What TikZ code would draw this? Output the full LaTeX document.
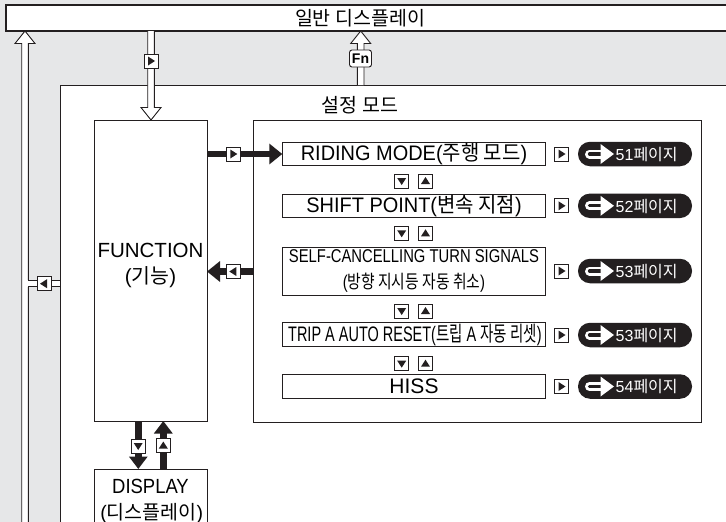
\documentclass[tikz,border=0pt]{standalone}
\usepackage{fontspec}
\setmainfont{Liberation Sans}
\newfontfamily\kr{Noto Sans CJK KR}
\usetikzlibrary{arrows.meta,calc}
\definecolor{bgc}{RGB}{230,231,232}
\definecolor{lc}{RGB}{35,31,32}
\tikzset{
 box/.style={draw=lc, fill=white, line width=0.9pt, inner sep=0pt, outer sep=0pt},
 item/.style={box, minimum width=263.4pt, minimum height=23.5pt, font=\fontsize{21}{22}\selectfont},
 btn/.style={draw=lc, fill=white, line width=0.8pt, minimum size=14pt, inner sep=0pt, outer sep=0pt},
 btnR/.style={btn, path picture={\fill[lc] ($(path picture bounding box.center)+(-3pt,4.5pt)$) -- ++(7pt,-4.5pt) -- ++(-7pt,-4.5pt) -- cycle;}},
 btnL/.style={btn, path picture={\fill[lc] ($(path picture bounding box.center)+(3pt,4.5pt)$) -- ++(-7pt,-4.5pt) -- ++(7pt,-4.5pt) -- cycle;}},
 btnD/.style={btn, path picture={\fill[lc] ($(path picture bounding box.center)+(-4.5pt,3pt)$) -- ++(9pt,0pt) -- ++(-4.5pt,-7pt) -- cycle;}},
 btnU/.style={btn, path picture={\fill[lc] ($(path picture bounding box.center)+(-4.5pt,-3pt)$) -- ++(9pt,0pt) -- ++(-4.5pt,7pt) -- cycle;}},
 pill/.style={fill=lc, rounded corners=12pt, minimum width=114pt, minimum height=24.5pt, inner sep=0pt, outer sep=0pt},
 pilltxt/.style={text=white, inner sep=0pt, font=\fontsize{16}{16}\selectfont},
 thk/.style={draw=lc, line width=6.7pt, -{Triangle[length=13pt, width=20pt]}},
 thks/.style={draw=lc, line width=6.7pt, -{Triangle[length=12.5pt, width=18pt]}},
 hol/.style={draw=lc, fill=white, line width=0.9pt, line join=miter},
}
\newcommand\harrow[2]{%
 \coordinate (hB) at ($(#2)!12.5pt!(#1)$);
 \filldraw[hol] ($(#1)!3.3pt!90:(#2)$) -- ($(hB)!3.3pt!90:(#2)$) -- ($(hB)!10pt!90:(#2)$) -- (#2) -- ($(hB)!10pt!-90:(#2)$) -- ($(hB)!3.3pt!-90:(#2)$) -- ($(#1)!3.3pt!-90:(#2)$);
}
\newcommand\pagepill[3]{%
 \node[btnR] (#1b) at (561.5,#2) {};
 \node[pill] (#1p) at (635,#2) {};
 \draw[white, line width=9pt, line cap=round] ($(#1p.west)+(11.5,0)$) -- ($(#1p.west)+(25,0)$);
 \draw[lc, line width=3.2pt, line cap=round] ($(#1p.west)+(11.5,0)$) -- ($(#1p.west)+(25,0)$);
 \fill[white] ($(#1p.west)+(22.5,-10)$) -- ($(#1p.west)+(36,0)$) -- ($(#1p.west)+(22.5,10)$) -- cycle;
 \node[pilltxt, anchor=west] (#1t) at ($(#1p.west)+(37.5,0.5)$) {#3{\kr 페이지}};
}
\begin{document}
\begin{tikzpicture}[x=1pt,y=-1pt]
\useasboundingbox (0,0) rectangle (726,522);
\clip (0,0) rectangle (726,522);
\fill[bgc] (0,0) rectangle (726,522);
% general display bar
\node[box, line width=1.1pt, anchor=north west, minimum width=740pt, minimum height=26pt] (top) at (6,5) {};
\node[font=\kr\fontsize{19.5}{20}\selectfont, inner sep=0pt] (toptxt) at (360,18) {일반 디스플레이};
% setting mode
\node[box, anchor=north west, minimum width=700pt, minimum height=470pt] (setbox) at (60,85) {};
\node[font=\kr\fontsize{19.5}{20}\selectfont, inner sep=0pt] (settxt) at (360,105) {설정 모드};
\node[box, anchor=north west, minimum width=448pt, minimum height=302pt] (inner) at (253,120) {};
\node[box, anchor=north west, minimum width=113pt, minimum height=301pt] (func) at (94,120) {};
\node[align=center, inner sep=0pt, font=\fontsize{20.5}{26}\selectfont] (functxt) at (150.5,265) {FUNCTION\\({\kr 기능})};
\node[box, anchor=north west, minimum width=113pt, minimum height=80pt] (disp) at (94,469) {};
\node[inner sep=0pt, xscale=0.9, font=\fontsize{20.5}{22}\selectfont] (disptxt) at (150.5,486) {DISPLAY};
\node[inner sep=0pt, font=\fontsize{19.5}{22}\selectfont] (disptxt2) at (151.7,513) {({\kr 디스플레이})};
% items
\node[item] (riding) at (414,154) {\scalebox{0.95}[1]{RIDING MODE({\kr 주행 모드})}};
\node[item] (shift) at (414,205.8) {\scalebox{0.95}[1]{SHIFT POINT({\kr 변속 지점})}};
\node[box, minimum width=263.4pt, minimum height=48.4pt] (selfc) at (414,271.5) {};
\node[align=center, inner sep=0pt, xscale=0.8, font=\fontsize{18.5}{25.7}\selectfont] (selfctxt) at (414,271.2) {SELF-CANCELLING TURN SIGNALS\\({\kr 방향 지시등 자동 취소})};
\node[item] (trip) at (414,334.5) {};
\node[inner sep=0pt, xscale=0.69, font=\fontsize{21}{22}\selectfont] (triptxt) at (415,334.5) {TRIP A AUTO RESET({\kr 트립} A {\kr 자동 리셋})};
\node[item] (hiss) at (414,386.2) {HISS};
% up/down buttons
\node[btnD] (d1) at (401.7,181) {}; \node[btnU] (u1) at (425.5,181) {};
\node[btnD] (d2) at (401.7,233.3) {}; \node[btnU] (u2) at (425.5,233.3) {};
\node[btnD] (d3) at (401.7,311) {}; \node[btnU] (u3) at (425.5,311) {};
\node[btnD] (d4) at (401.7,363.7) {}; \node[btnU] (u4) at (425.5,363.7) {};
% page pills
\pagepill{ridingx}{154}{51}
\pagepill{shiftx}{205.8}{52}
\pagepill{selfcx}{271}{53}
\pagepill{tripx}{335}{53}
\pagepill{hissx}{386.5}{54}
% thick arrows function <-> items
\draw[thk] (func.east |- riding) -- (riding.west);
\node[btnR] (fr) at (233.3,154) {};
\draw[thk] (inner.west |- selfc) -- (func.east |- selfc);
\node[btnL] (fl) at (233.3,271.5) {};
% function <-> display
\coordinate (ddx) at (138.3,0);
\coordinate (dux) at (163.3,0);
\draw[thks] (ddx |- func.south) -- (ddx |- disp.north);
\draw[thks] (dux |- disp.north) -- (dux |- func.south);
\node[btnD] (dd) at (138.2,446) {};
\node[btnU] (du) at (163.3,445.5) {};
% hollow arrows
\coordinate (tdx) at (151,0);
\coordinate (tdA) at (tdx |- top.south);
\coordinate (tdB) at (tdx |- func.north);
\harrow{tdA}{tdB}
\node[btnR] (tdbtn) at (151,61) {};
\coordinate (fnx) at (360.7,0);
\coordinate (fnA) at (fnx |- setbox.north);
\coordinate (fnB) at (fnx |- top.south);
\harrow{fnA}{fnB}
\node[draw=lc, fill=white, rounded corners=2.5pt, minimum width=22pt, minimum height=17pt, inner sep=0pt, line width=0.9pt, font=\bfseries\fontsize{14}{14}\selectfont] (fnbtn) at (360.5,58.5) {Fn};
\coordinate (lx) at (25,0);
\coordinate (lA) at (25,545);
\coordinate (lB) at (lx |- top.south);
\harrow{lA}{lB}
\coordinate (lh) at (0,283.4);
\fill[white] ($(lx |- lh)+(0,-3.35)$) rectangle ($(setbox.west |- lh)+(-0.5,3.35)$);
\draw[lc, line width=0.9pt] ($(lx |- lh)+(3.3,-3.35)$) -- ($(setbox.west |- lh)+(0,-3.35)$);
\draw[lc, line width=0.9pt] ($(lx |- lh)+(3.3,3.35)$) -- ($(setbox.west |- lh)+(0,3.35)$);
\node[btnL] (lbtn) at (44,283.7) {};
\end{tikzpicture}
\end{document}
